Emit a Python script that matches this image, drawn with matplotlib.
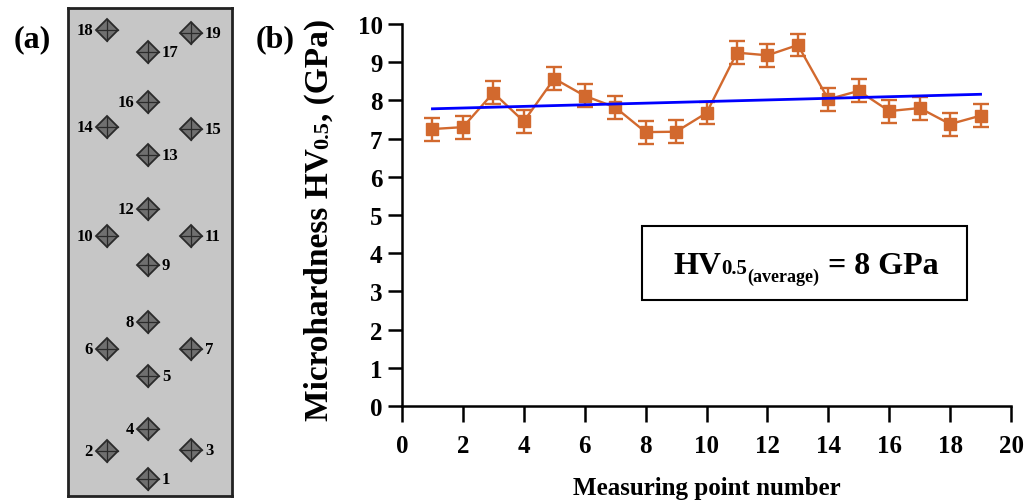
import matplotlib
matplotlib.use("Agg")
import matplotlib.pyplot as plt
from matplotlib.transforms import IdentityTransform
from matplotlib.patches import Polygon, Rectangle

plt.rcParams['font.family'] = ['Liberation Serif', 'DejaVu Serif']
plt.rcParams['font.weight'] = 'bold'

# ---------------- data ----------------
points = [1, 2, 3, 4, 5, 6, 7, 8, 9, 10, 11, 12, 13, 14, 15, 16, 17, 18, 19]
hardness = [7.25, 7.30, 8.20, 7.45, 8.57, 8.12, 7.82, 7.17, 7.18, 7.67,
            9.25, 9.18, 9.45, 8.03, 8.25, 7.72, 7.80, 7.38, 7.60]
errors = [0.3, 0.3, 0.3, 0.3, 0.3, 0.3, 0.3, 0.3, 0.3, 0.3,
          0.3, 0.3, 0.3, 0.3, 0.3, 0.3, 0.3, 0.3, 0.3]
trend_x = [1, 19]
trend_y = [7.78, 8.16]
x_ticks = [0, 2, 4, 6, 8, 10, 12, 14, 16, 18, 20]
y_ticks = [0, 1, 2, 3, 4, 5, 6, 7, 8, 9, 10]

# schematic (a): column (0 left,1 centre,2 right) and row height of each point
sketch_ids = [18, 19, 17, 16, 14, 15, 13, 12, 10, 11, 9, 8, 6, 7, 5, 4, 2, 3, 1]
sketch_col = [0, 2, 1, 1, 0, 2, 1, 1, 0, 2, 1, 1, 0, 2, 1, 1, 0, 2, 1]
sketch_row = [22, 25, 44, 94, 119, 121, 147, 201, 228, 228, 257, 314, 341, 341,
              368, 421, 443, 442, 471]

W, H = 1035, 502
fig = plt.figure(figsize=(W / 100, H / 100), dpi=100)
orange = '#D2692E'

# ---------------- panel (a) ----------------
axa = fig.add_axes([68 / W, 5 / H, 164 / W, 488 / H])
axa.set_facecolor('#C6C6C6')
axa.set_xlim(0, 164)
axa.set_ylim(488, 0)
axa.set_xticks([])
axa.set_yticks([])
for s in axa.spines.values():
    s.set_linewidth(2.0)
    s.set_color('#222222')
col_x = [39, 80, 123]
r = 11
for pid, c, yy in zip(sketch_ids, sketch_col, sketch_row):
    xx = col_x[c]
    axa.add_patch(Polygon([[xx - r, yy], [xx, yy - r], [xx + r, yy], [xx, yy + r]],
                          closed=True, facecolor='#707070', edgecolor='#2a2a2a', lw=1.3))
    axa.plot([xx - r, xx + r], [yy, yy], color='#2a2a2a', lw=0.9)
    axa.plot([xx, xx], [yy - r, yy + r], color='#2a2a2a', lw=0.9)
    if pid % 2 == 0:
        axa.text(xx - 14, yy, str(pid), ha='right', va='center', fontsize=12,
                 fontweight='bold')
    else:
        axa.text(xx + 14, yy, str(pid), ha='left', va='center', fontsize=12,
                 fontweight='bold')

fig.text(14 / W, 1 - 40 / H, '(a)', fontsize=23, fontweight='bold', ha='left', va='center')
fig.text(256 / W, 1 - 40 / H, '(b)', fontsize=23, fontweight='bold', ha='left', va='center')

# ---------------- panel (b) ----------------
ax = fig.add_axes([402 / W, 95 / H, 609 / W, 382 / H])
ax.errorbar(points, hardness, yerr=errors, color=orange, marker='s', ms=9,
            lw=1.7, elinewidth=1.7, capsize=5.5, capthick=1.7, zorder=3)
ax.plot(trend_x, trend_y, color='#0000FF', lw=2.0, zorder=4)
ax.set_xlim(0, 20)
ax.set_ylim(0, 10)
ax.set_xticks(x_ticks)
ax.set_yticks(y_ticks)
ax.spines['top'].set_visible(False)
ax.spines['right'].set_visible(False)
for s in ['left', 'bottom']:
    ax.spines[s].set_linewidth(1.8)
ax.tick_params(axis='x', direction='out', length=11.5, width=1.8, pad=9, labelsize=18)
ax.tick_params(axis='y', direction='out', length=10, width=1.8, pad=4, labelsize=18)
for lab in ax.get_xticklabels() + ax.get_yticklabels():
    lab.set_fontweight('bold')
ax.set_xlabel('Measuring point number', fontsize=18, fontweight='bold', labelpad=13)

# results box
ax.add_patch(Rectangle((7.87, 2.77), 10.69, 1.93, facecolor='white', edgecolor='black',
                       lw=1.5, zorder=5))

renderer = fig.canvas.get_renderer()


def pieces_text(pieces, cx, base, rotated=False):
    """Lay out (text, size, shift) pieces along a baseline centred at cx (pixels)."""
    tr = IdentityTransform()
    objs = []
    lengths = []
    for s, size, shift in pieces:
        t = fig.text(0, 0, s, fontsize=size, fontweight='bold', transform=tr,
                     rotation=90 if rotated else 0, rotation_mode='anchor',
                     ha='left', va='baseline', zorder=6)
        bb = t.get_window_extent(renderer)
        lengths.append(bb.height if rotated else bb.width)
        objs.append(t)
    total = sum(lengths)
    pos = cx - total / 2
    for t, L, (s, size, shift) in zip(objs, lengths, pieces):
        if rotated:
            t.set_position((base - shift, pos))
        else:
            t.set_position((pos, base + shift))
        pos += L


pieces_text([('HV', 23, 0), ('0.5', 15, 0), ('(average)', 13, -8), (' = 8 GPa', 23, 0)],
            806, 228)
pieces_text([('Microhardness HV', 24, 0), ('0.5', 16, 0), (', (GPa)', 24, 0)],
            282, 328, rotated=True)

fig.savefig('out.png', dpi=100)
